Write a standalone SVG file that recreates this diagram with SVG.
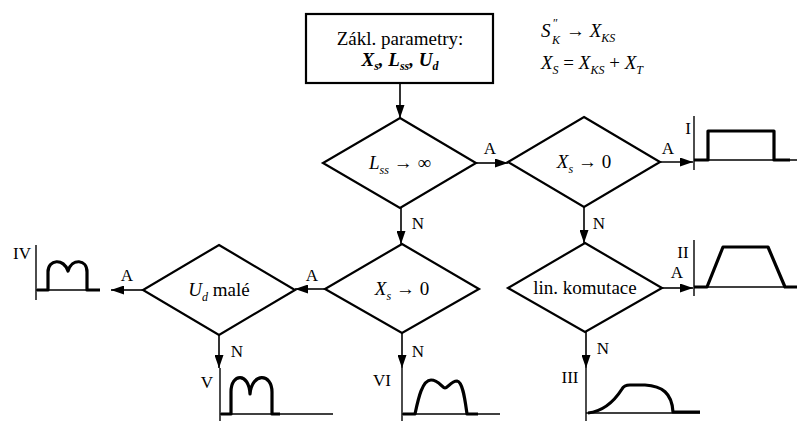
<svg xmlns="http://www.w3.org/2000/svg" width="797" height="421" viewBox="0 0 797 421">
<defs>
<marker id="ah" markerUnits="userSpaceOnUse" markerWidth="13" markerHeight="9" refX="13" refY="4.5" orient="auto">
<path d="M0,0 L13,4.5 L0,9 z" fill="#000"/>
</marker>
<style>
text{font-family:"Liberation Serif","Times New Roman",serif;fill:#000}
.t{font-size:19px}
.lb{font-size:17px;text-anchor:middle}
.i{font-style:italic}
.s{font-size:12px}
.d{fill:#fff;stroke:#000;stroke-width:2.2}
.c{fill:none;stroke:#000;stroke-width:1.6}
.ax{fill:none;stroke:#000;stroke-width:1.4}
.w{fill:none;stroke:#000;stroke-width:3.2;stroke-linejoin:round}
</style>
</defs>
<rect width="797" height="421" fill="#fff"/>

<g id="connectors">
<line class="c" x1="400" y1="83" x2="400" y2="118" marker-end="url(#ah)"/>
<line class="c" x1="476" y1="163" x2="508" y2="163" marker-end="url(#ah)"/>
<line class="c" x1="660" y1="162" x2="693" y2="162" marker-end="url(#ah)"/>
<line class="c" x1="401" y1="208" x2="401" y2="244" marker-end="url(#ah)"/>
<line class="c" x1="584" y1="207" x2="584" y2="243" marker-end="url(#ah)"/>
<line class="c" x1="662" y1="288" x2="693" y2="288" marker-end="url(#ah)"/>
<line class="c" x1="325" y1="289" x2="295" y2="289" marker-end="url(#ah)"/>
<line class="c" x1="143" y1="290" x2="111" y2="290" marker-end="url(#ah)"/>
<line class="c" x1="219" y1="335" x2="219" y2="368" marker-end="url(#ah)"/>
<line class="c" x1="402" y1="333" x2="402" y2="368" marker-end="url(#ah)"/>
<line class="c" x1="586" y1="332" x2="586" y2="368" marker-end="url(#ah)"/>
<text class="lb" x="490" y="154">A</text>
<text class="lb" x="668" y="154">A</text>
<text class="lb" x="677" y="278">A</text>
<text class="lb" x="312" y="281">A</text>
<text class="lb" x="127" y="281">A</text>
<text class="lb" x="418" y="229">N</text>
<text class="lb" x="599" y="229">N</text>
<text class="lb" x="237" y="357">N</text>
<text class="lb" x="418" y="357">N</text>
<text class="lb" x="603" y="354">N</text>
</g>

<g id="start">
<rect x="306" y="14" width="187" height="69" fill="#fff" stroke="#000" stroke-width="2.2"/>
<text class="t" x="400" y="45" text-anchor="middle">Zákl. parametry:</text>
<text class="t" x="400" y="66" text-anchor="middle" font-weight="bold" font-style="italic">X<tspan class="s" dy="4">s</tspan><tspan dy="-4">, L</tspan><tspan class="s" dy="4">ss</tspan><tspan dy="-4">, U</tspan><tspan class="s" dy="4">d</tspan></text>
</g>

<g id="formulas">
<text class="t i" x="541" y="37">S</text>
<text class="s" x="553" y="27">″</text>
<text class="s i" x="552" y="44">K</text>
<text class="t" x="566" y="37">→ <tspan class="i">X</tspan><tspan class="s i" dy="5">KS</tspan></text>
<text class="t" x="541" y="69"><tspan class="i">X</tspan><tspan class="s i" dy="5">S</tspan><tspan dy="-5"> = </tspan><tspan class="i">X</tspan><tspan class="s i" dy="5">KS</tspan><tspan dy="-5"> + </tspan><tspan class="i">X</tspan><tspan class="s i" dy="5">T</tspan></text>
</g>

<g id="d1">
<polygon class="d" points="400,118 476,163 400,208 323,163"/>
<text class="t" x="400" y="169" text-anchor="middle"><tspan class="i">L</tspan><tspan class="s i" dy="5">ss</tspan><tspan dy="-5"> → ∞</tspan></text>
</g>

<g id="d2">
<polygon class="d" points="584,117 660,162 584,207 508,162"/>
<text class="t" x="584" y="168" text-anchor="middle"><tspan class="i">X</tspan><tspan class="s i" dy="5">s</tspan><tspan dy="-5"> → 0</tspan></text>
</g>

<g id="d3">
<polygon class="d" points="585,243 662,288 585,332 508,288"/>
<text class="t" x="585" y="294" text-anchor="middle">lin. komutace</text>
</g>

<g id="d4">
<polygon class="d" points="402,244 479,289 402,333 325,289"/>
<text class="t" x="402" y="295" text-anchor="middle"><tspan class="i">X</tspan><tspan class="s i" dy="5">s</tspan><tspan dy="-5"> → 0</tspan></text>
</g>

<g id="d5">
<polygon class="d" points="219,245 295,290 219,335 143,290"/>
<text class="t" x="219" y="296" text-anchor="middle"><tspan class="i">U</tspan><tspan class="s i" dy="5">d</tspan><tspan dy="-5"> malé</tspan></text>
</g>

<g id="wave-I">
<line class="ax" x1="694" y1="116" x2="694" y2="170"/>
<line class="ax" x1="694" y1="160" x2="797" y2="160"/>
<path class="w" d="M694,160 H708 V131 H774 V160 H790"/>
<text class="lb" x="688" y="134">I</text>
</g>

<g id="wave-II">
<line class="ax" x1="694" y1="240" x2="694" y2="296"/>
<line class="ax" x1="694" y1="287" x2="797" y2="287"/>
<path class="w" d="M694,287 H707 L723,247 H768 L785,287 H797"/>
<text class="lb" x="683" y="258">II</text>
</g>

<g id="wave-III">
<line class="ax" x1="586" y1="368" x2="586" y2="421"/>
<line class="ax" x1="586" y1="413" x2="700" y2="413"/>
<path class="w" d="M588,413 C605,411 615,400 622,389 Q624,385 630,385 L645,385 C662,386 672,393 673,412 H700"/>
<text class="lb" x="570" y="383">III</text>
</g>

<g id="wave-IV">
<line class="ax" x1="36" y1="245" x2="36" y2="300"/>
<line class="ax" x1="36" y1="290" x2="100" y2="290"/>
<path class="w" d="M37,290 H48 V272 C48,259 64,258 68,271 C72,258 87,259 87,272 V290 H100"/>
<text class="lb" x="22" y="259">IV</text>
</g>

<g id="wave-V">
<line class="ax" x1="220" y1="368" x2="220" y2="421"/>
<line class="ax" x1="220" y1="414" x2="333" y2="414"/>
<path class="w" d="M221,414 H231 V392 C231,373 249,372 250,394 C252,372 272,373 272,392 V414 H280"/>
<text class="lb" x="207" y="388">V</text>
</g>

<g id="wave-VI">
<line class="ax" x1="402" y1="368" x2="402" y2="421"/>
<line class="ax" x1="402" y1="414" x2="500" y2="414"/>
<path class="w" d="M403,414 H415 C418,400 422,380 431,380 C439,380 442,388 445,388 C448,388 451,381 457,381 C463,382 465,400 467,414 H478"/>
<text class="lb" x="382" y="386">VI</text>
</g>
</svg>
